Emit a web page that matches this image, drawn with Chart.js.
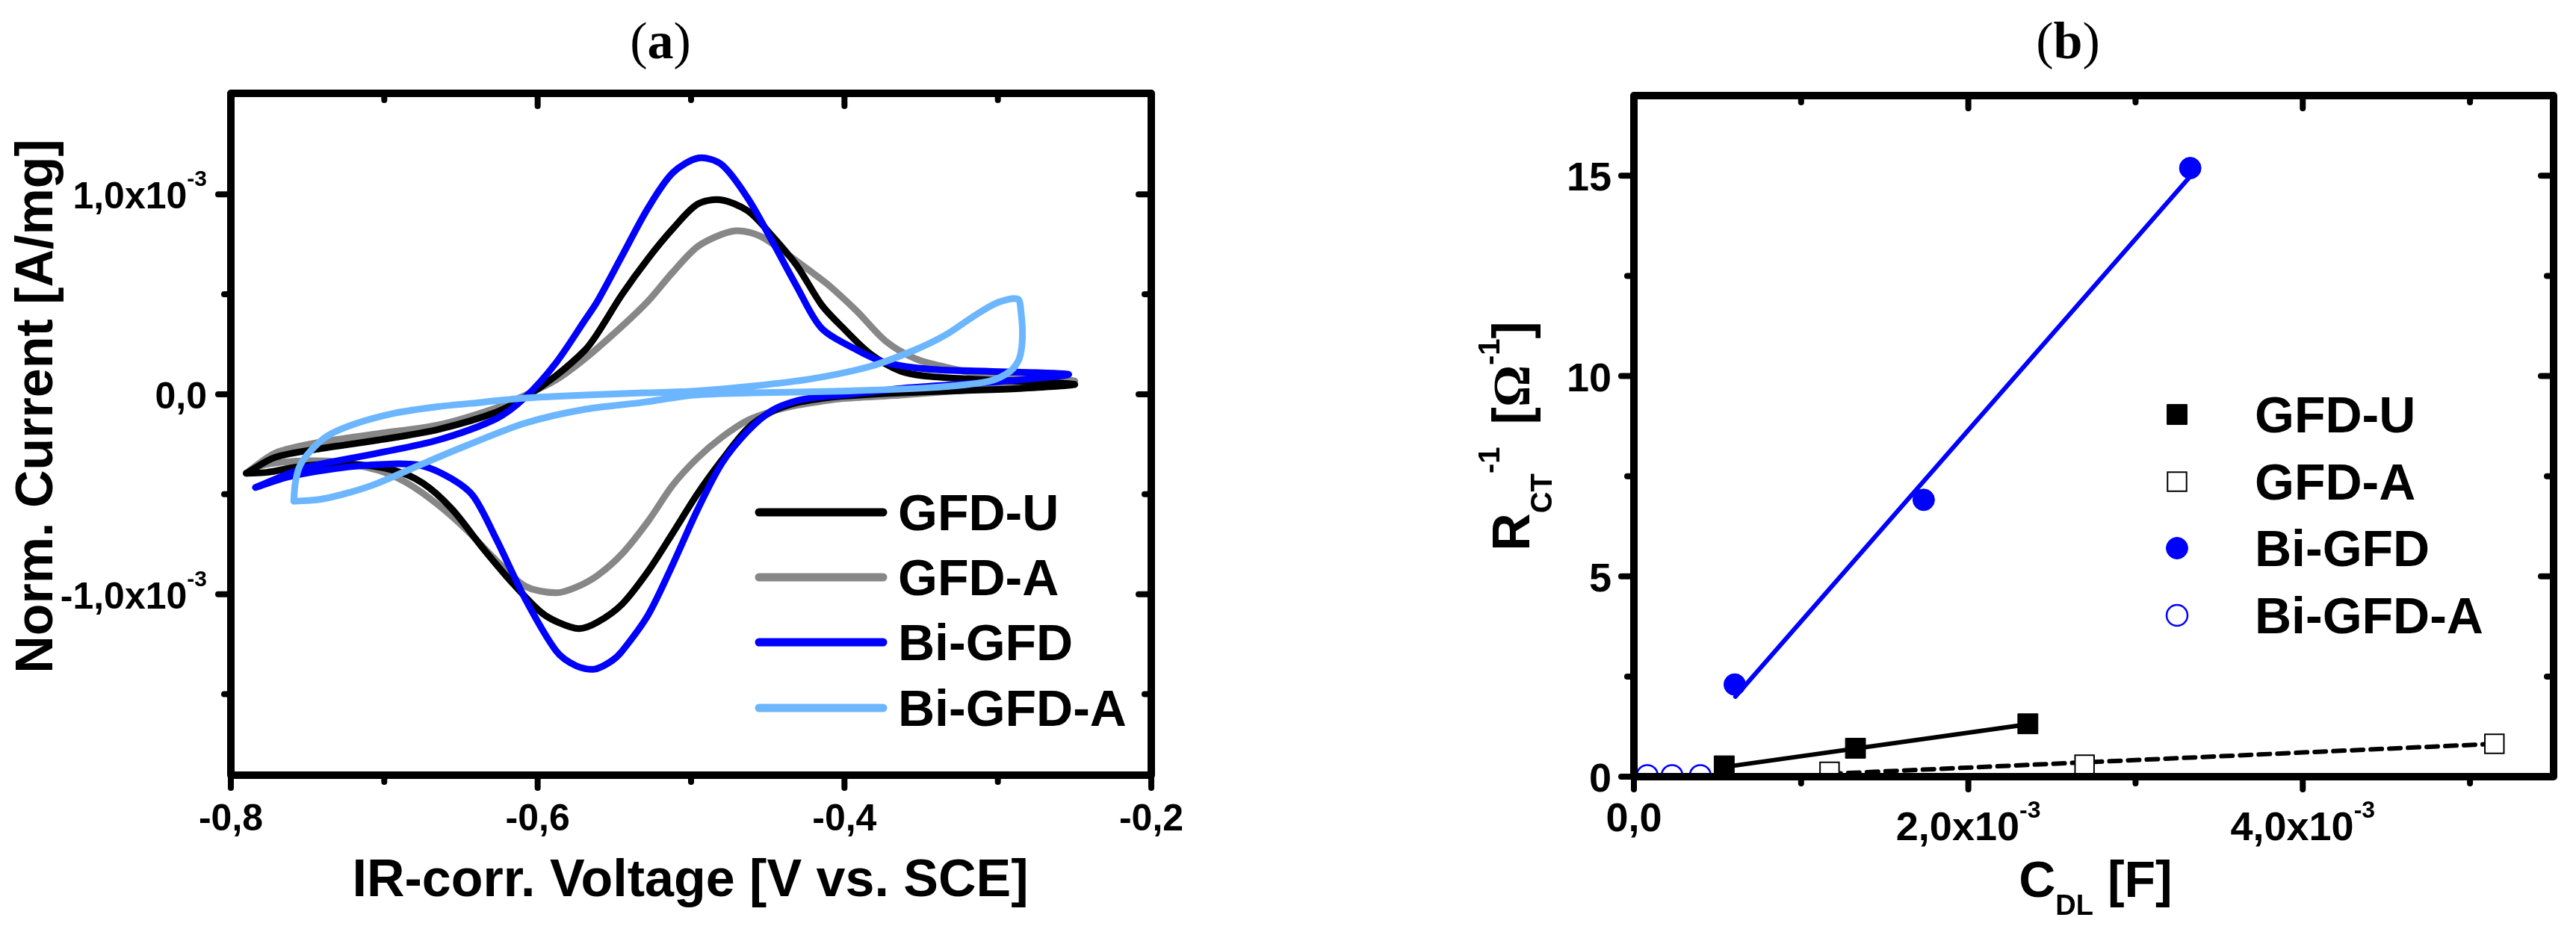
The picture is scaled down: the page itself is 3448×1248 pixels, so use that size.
<!DOCTYPE html>
<html>
<head>
<meta charset="utf-8">
<script src="https://cdn.jsdelivr.net/npm/chart.js@4.4.1/dist/chart.umd.min.js"></script>
<style>
html, body { margin: 0; padding: 0; background: #fff; }
#wrap { position: relative; width: 3448px; height: 1248px; overflow: hidden; }
canvas { position: absolute; top: 0; }
#cvA { left: 0; }
#cvB { left: 1724px; }
</style>
</head>
<body>
<div id="wrap">
  <canvas id="cvA" width="1724" height="1248"></canvas>
  <canvas id="cvB" width="1724" height="1248"></canvas>
</div>
<script>
// ---- panel (a): cyclic voltammograms, [V vs SCE, current in 10^-3 A/mg] ----
const cvGfdU = [[-0.790,-0.395],[-0.771,-0.315],[-0.742,-0.272],[-0.704,-0.229],[-0.665,-0.176],[-0.627,-0.090],[-0.608,-0.014],[-0.588,0.093],[-0.569,0.222],[-0.561,0.304],[-0.545,0.499],[-0.528,0.679],[-0.512,0.827],[-0.496,0.950],[-0.481,0.973],[-0.463,0.917],[-0.447,0.791],[-0.431,0.643],[-0.415,0.448],[-0.402,0.340],[-0.383,0.201],[-0.363,0.115],[-0.344,0.089],[-0.306,0.072],[-0.250,0.050],
  [-0.286,0.029],[-0.325,0.018],[-0.363,0.007],[-0.402,-0.010],[-0.415,-0.021],[-0.431,-0.042],[-0.447,-0.085],[-0.463,-0.170],[-0.480,-0.330],[-0.496,-0.500],[-0.512,-0.695],[-0.528,-0.885],[-0.545,-1.050],[-0.561,-1.140],[-0.573,-1.172],[-0.586,-1.143],[-0.598,-1.089],[-0.617,-0.939],[-0.636,-0.767],[-0.656,-0.573],[-0.675,-0.444],[-0.694,-0.380],[-0.723,-0.348],[-0.752,-0.358],[-0.777,-0.391],[-0.790,-0.395]];
const cvGfdA = [[-0.790,-0.395],[-0.771,-0.294],[-0.742,-0.240],[-0.704,-0.197],[-0.665,-0.154],[-0.627,-0.068],[-0.608,-0.004],[-0.588,0.072],[-0.569,0.179],[-0.545,0.340],[-0.528,0.466],[-0.512,0.610],[-0.496,0.737],[-0.480,0.800],[-0.469,0.818],[-0.455,0.791],[-0.439,0.710],[-0.423,0.620],[-0.411,0.550],[-0.392,0.416],[-0.373,0.265],[-0.354,0.179],[-0.334,0.136],[-0.306,0.093],[-0.250,0.067],
  [-0.286,0.039],[-0.325,0.018],[-0.363,-0.004],[-0.402,-0.022],[-0.415,-0.035],[-0.431,-0.055],[-0.447,-0.085],[-0.463,-0.130],[-0.480,-0.215],[-0.496,-0.320],[-0.512,-0.455],[-0.528,-0.635],[-0.545,-0.798],[-0.561,-0.906],[-0.575,-0.965],[-0.588,-0.993],[-0.608,-0.960],[-0.627,-0.831],[-0.646,-0.681],[-0.665,-0.552],[-0.685,-0.444],[-0.704,-0.380],[-0.733,-0.337],[-0.762,-0.337],[-0.781,-0.358],[-0.790,-0.395]];
const cvBiGfd = [[-0.784,-0.466],[-0.752,-0.369],[-0.704,-0.294],[-0.665,-0.229],[-0.627,-0.122],[-0.608,-0.014],[-0.588,0.158],[-0.569,0.373],[-0.561,0.466],[-0.545,0.692],[-0.528,0.932],[-0.512,1.107],[-0.495,1.182],[-0.480,1.148],[-0.463,0.980],[-0.447,0.764],[-0.431,0.538],[-0.415,0.331],[-0.392,0.222],[-0.373,0.158],[-0.344,0.125],[-0.306,0.115],[-0.254,0.100],
  [-0.286,0.072],[-0.325,0.050],[-0.363,0.029],[-0.402,-0.004],[-0.415,-0.012],[-0.431,-0.032],[-0.447,-0.080],[-0.463,-0.184],[-0.480,-0.346],[-0.496,-0.581],[-0.512,-0.852],[-0.528,-1.104],[-0.545,-1.285],[-0.552,-1.335],[-0.563,-1.375],[-0.575,-1.358],[-0.588,-1.283],[-0.608,-1.025],[-0.627,-0.724],[-0.642,-0.509],[-0.656,-0.423],[-0.675,-0.358],[-0.694,-0.348],[-0.723,-0.363],[-0.762,-0.412],[-0.784,-0.466]];
const cvBiGfdA = [[-0.759,-0.535],[-0.758,-0.444],[-0.755,-0.358],[-0.748,-0.283],[-0.737,-0.208],[-0.719,-0.148],[-0.694,-0.096],[-0.665,-0.062],[-0.636,-0.040],[-0.608,-0.019],[-0.569,-0.004],[-0.531,0.007],[-0.498,0.016],[-0.460,0.041],[-0.421,0.078],[-0.383,0.140],[-0.354,0.222],[-0.334,0.297],[-0.315,0.394],[-0.300,0.459],[-0.287,0.476],
  [-0.285,0.416],[-0.284,0.287],[-0.286,0.179],[-0.292,0.115],[-0.306,0.065],[-0.344,0.033],[-0.402,0.016],[-0.460,0.007],[-0.498,-0.004],[-0.531,-0.040],[-0.569,-0.075],[-0.608,-0.144],[-0.646,-0.255],[-0.675,-0.348],[-0.704,-0.444],[-0.723,-0.492],[-0.742,-0.526],[-0.759,-0.535]];
const cvNames = ['GFD-U', 'GFD-A', 'Bi-GFD', 'Bi-GFD-A'];
const cvColors = ['#000000', '#878787', '#0000ff', '#6cb6ff'];
const cvOrder = [3, 4, 2, 1];
const cvXTicks = [-0.8, -0.6, -0.4, -0.2];
const cvXLabels = ['-0,8', '-0,6', '-0,4', '-0,2'];
const cvXMinor = [-0.7, -0.5, -0.3];
const cvYTicks = [-1, 0, 1];
const cvYLabels = [['-1,0x10', '-3'], ['0,0', ''], ['1,0x10', '-3']];
const cvYMinor = [-1.5, -0.5, 0.5];

// ---- panel (b): R_CT^-1 vs C_DL ----
const cdlGfdU = [0.54e-3, 1.325e-3, 2.356e-3];
const rctGfdU = [0.27, 0.71, 1.32];
const cdlGfdA = [1.17e-3, 2.695e-3, 5.146e-3];
const rctGfdA = [0.12, 0.30, 0.82];
const cdlBiGfd = [0.603e-3, 1.733e-3, 3.327e-3];
const rctBiGfd = [2.30, 6.91, 15.19];
const cdlBiGfdA = [0.080e-3, 0.228e-3, 0.397e-3];
const rctBiGfdA = [0.03, 0.03, 0.03];
// fitted lines, end points
const fitGfdU = [[0.54e-3, 0.24], [2.36e-3, 1.31]];
const fitGfdA = [[1.17e-3, 0.07], [5.15e-3, 0.82]];
const fitBiGfd = [[0.607e-3, 2.0], [3.32e-3, 14.95]];
const fitBiGfdA = [[0.08e-3, 0.02], [0.40e-3, 0.03]];
const rcXTicks = [0, 2e-3, 4e-3];
const rcXLabels = [['0,0', ''], ['2,0x10', '-3'], ['4,0x10', '-3']];
const rcXMinor = [1e-3, 3e-3, 5e-3];
const rcYTicks = [0, 5, 10, 15];
const rcYLabels = ['0', '5', '10', '15'];
const rcYMinor = [2.5, 7.5, 12.5];

const SANS = '"Liberation Sans", Arial, sans-serif';
const SERIF = '"Liberation Serif", "Times New Roman", serif';
const B = (px) => 'bold ' + px + 'px ' + SANS;

function richWidth(ctx, parts) {
  let w = 0;
  for (const p of parts) { ctx.font = p.font; w += ctx.measureText(p.t).width + (p.gap || 0); }
  return w;
}
function drawRich(ctx, parts, x, y, align) {
  const w = richWidth(ctx, parts);
  let cx = align === 'center' ? x - w / 2 : align === 'right' ? x - w : x;
  ctx.textAlign = 'left'; ctx.textBaseline = 'alphabetic';
  for (const p of parts) {
    ctx.font = p.font;
    ctx.fillText(p.t, cx, y + (p.dy || 0));
    cx += ctx.measureText(p.t).width + (p.gap || 0);
  }
}

function drawFrame(chart, t) {
  const { ctx, chartArea: { left, right, top, bottom }, scales: { x, y } } = chart;
  ctx.save();
  ctx.strokeStyle = '#000';
  ctx.lineWidth = 10; ctx.lineJoin = 'round';
  ctx.strokeRect(left, top, right - left, bottom - top);
  ctx.lineWidth = 8; ctx.lineCap = 'round';
  const tick = (x1, y1, x2, y2) => { ctx.beginPath(); ctx.moveTo(x1, y1); ctx.lineTo(x2, y2); ctx.stroke(); };
  for (const [vals, len] of [[t.xMajor, 17], [t.xMinor, 9]]) {
    for (const v of vals) { const px = x.getPixelForValue(v); tick(px, bottom, px, bottom + len); tick(px, top, px, top + len); }
  }
  for (const [vals, len] of [[t.yMajor, 17], [t.yMinor, 9]]) {
    for (const v of vals) { const py = y.getPixelForValue(v); tick(left, py, left - len, py); tick(right, py, right - len, py); }
  }
  ctx.restore();
}

function drawTitle(ctx, letter, cx) {
  ctx.fillStyle = '#000';
  drawRich(ctx, [
    { t: '(', font: '70px ' + SERIF },
    { t: letter, font: 'bold 70px ' + SERIF },
    { t: ')', font: '70px ' + SERIF }
  ], cx, 78, 'center');
}

function baseOpts(xmin, xmax, ymin, ymax, padding) {
  return {
    responsive: false, animation: false, devicePixelRatio: 1, events: [],
    layout: { padding },
    plugins: { legend: { display: false }, tooltip: { enabled: false } },
    scales: {
      x: { type: 'linear', min: xmin, max: xmax, display: false },
      y: { type: 'linear', min: ymin, max: ymax, display: false }
    }
  };
}

// ---- chart (a) ----
const panelA = {
  id: 'panelA',
  afterDatasetsDraw(chart) {
    const { ctx, chartArea: { left, right, bottom }, scales: { x, y } } = chart;
    drawFrame(chart, { xMajor: cvXTicks, xMinor: cvXMinor, yMajor: cvYTicks, yMinor: cvYMinor });
    ctx.save();
    ctx.fillStyle = '#000';
    cvXTicks.forEach((v, i) => drawRich(ctx, [{ t: cvXLabels[i], font: B(50) }], x.getPixelForValue(v), bottom + 74, 'center'));
    cvYTicks.forEach((v, i) => {
      const py = y.getPixelForValue(v);
      const parts = [{ t: cvYLabels[i][0], font: B(50) }];
      if (cvYLabels[i][1]) parts.push({ t: cvYLabels[i][1], font: B(30), dy: -30 });
      drawRich(ctx, parts, left - 32, py + 19, 'right');
    });
    drawRich(ctx, [{ t: 'IR-corr. Voltage [V vs. SCE]', font: B(70) }], (left + right) / 2 - 1, 1200, 'center');
    ctx.save();
    ctx.translate(70, 544); ctx.rotate(-Math.PI / 2);
    drawRich(ctx, [{ t: 'Norm. Current [A/mg]', font: B(70) }], 0, 0, 'center');
    ctx.restore();
    drawTitle(ctx, 'a', 884);
    // legend
    const rows = [686, 773, 860, 948];
    chart.data.datasets.forEach((ds, i) => {
      ctx.strokeStyle = ds.borderColor; ctx.lineWidth = 11; ctx.lineCap = 'round';
      ctx.beginPath(); ctx.moveTo(1016, rows[i]); ctx.lineTo(1182, rows[i]); ctx.stroke();
      ctx.fillStyle = '#000';
      drawRich(ctx, [{ t: ds.label, font: B(68) }], 1202, rows[i] + 24, 'left');
    });
    ctx.restore();
  }
};

new Chart(document.getElementById('cvA'), {
  type: 'scatter',
  data: {
    datasets: [cvGfdU, cvGfdA, cvBiGfd, cvBiGfdA].map((d, i) => ({
      label: cvNames[i], data: d, showLine: true,
      borderColor: cvColors[i], backgroundColor: cvColors[i],
      borderWidth: 9, pointRadius: 0, tension: 0.3,
      borderCapStyle: 'round', borderJoinStyle: 'round', order: cvOrder[i]
    }))
  },
  options: baseOpts(-0.8, -0.2, -1.905, 1.505, { left: 309, right: 183, top: 125, bottom: 210 }),
  plugins: [panelA]
});

// ---- chart (b) ----
const pts = (xs, ys) => xs.map((v, i) => ({ x: v, y: ys[i] }));
const markerSets = [
  { label: 'GFD-U', data: pts(cdlGfdU, rctGfdU), pointStyle: 'rect', pointRadius: 19, backgroundColor: '#000', borderColor: '#000', pointBorderWidth: 1 },
  { label: 'GFD-A', data: pts(cdlGfdA, rctGfdA), pointStyle: 'rect', pointRadius: 18, backgroundColor: '#fff', borderColor: '#000', pointBorderWidth: 2 },
  { label: 'Bi-GFD', data: pts(cdlBiGfd, rctBiGfd), pointStyle: 'circle', pointRadius: 14.5, backgroundColor: '#0000ff', borderColor: '#0000ff', pointBorderWidth: 1 },
  { label: 'Bi-GFD-A', data: pts(cdlBiGfdA, rctBiGfdA), pointStyle: 'circle', pointRadius: 14, backgroundColor: '#fff', borderColor: '#0000ff', pointBorderWidth: 2.5 }
];
const fitSets = [
  { data: fitGfdU, borderColor: '#000', borderWidth: 6 },
  { data: fitGfdA, borderColor: '#000', borderWidth: 6, borderDash: [15, 10] },
  { data: fitBiGfd, borderColor: '#0000ff', borderWidth: 6 },
  { data: fitBiGfdA, borderColor: '#0000ff', borderWidth: 5 }
];

const panelB = {
  id: 'panelB',
  afterDatasetsDraw(chart) {
    const { ctx, chartArea: { left }, scales: { x, y } } = chart;
    drawFrame(chart, { xMajor: rcXTicks, xMinor: rcXMinor, yMajor: rcYTicks, yMinor: rcYMinor });
    ctx.save();
    ctx.fillStyle = '#000';
    rcXTicks.forEach((v, i) => {
      const px = x.getPixelForValue(v);
      if (rcXLabels[i][1]) drawRich(ctx, [{ t: rcXLabels[i][0], font: B(54) }, { t: rcXLabels[i][1], font: B(32), dy: -30 }], px, 1125, 'center');
      else drawRich(ctx, [{ t: rcXLabels[i][0], font: B(54) }], px, 1113, 'center');
    });
    rcYTicks.forEach((v, i) => drawRich(ctx, [{ t: rcYLabels[i], font: B(54) }], left - 30, y.getPixelForValue(v) + 20, 'right'));
    drawRich(ctx, [
      { t: 'C', font: B(68) },
      { t: 'DL', font: B(38), dy: 24 },
      { t: ' [F]', font: B(68) }
    ], 1081, 1201, 'center');
    ctx.save();
    ctx.translate(323, 584); ctx.rotate(-Math.PI / 2);
    drawRich(ctx, [
      { t: 'R', font: B(70) },
      { t: 'CT', font: B(40), dy: 30 },
      { t: '-1', font: B(40), dy: -40, gap: 30 },
      { t: '[', font: B(70) },
      { t: '\u03A9', font: 'bold 70px ' + SERIF },
      { t: '-1', font: B(40), dy: -40 },
      { t: ']', font: B(70) }
    ], 0, 0, 'center');
    ctx.restore();
    drawTitle(ctx, 'b', 1044);
    // legend
    const rows = [555, 645, 734, 824];
    markerSets.forEach((m, i) => {
      ctx.fillStyle = m.backgroundColor; ctx.strokeStyle = m.borderColor; ctx.lineWidth = m.pointBorderWidth;
      Chart.helpers.drawPoint(ctx, { pointStyle: m.pointStyle, radius: m.pointRadius, rotation: 0, borderWidth: m.pointBorderWidth }, 1190, rows[i]);
      ctx.fillStyle = '#000';
      drawRich(ctx, [{ t: m.label, font: B(68) }], 1294, rows[i] + 24, 'left');
    });
    ctx.restore();
  }
};

new Chart(document.getElementById('cvB'), {
  type: 'scatter',
  data: {
    datasets: [
      ...fitSets.map(f => Object.assign({ showLine: true, pointRadius: 0, borderCapStyle: 'round', order: 2, clip: 0 }, f)),
      ...markerSets.map(m => Object.assign({ showLine: false, order: 1, clip: 0 }, m))
    ]
  },
  options: baseOpts(0, 5.5e-3, 0, 17, { left: 463, right: 30, top: 128, bottom: 208 }),
  plugins: [panelB]
});
</script>
</body>
</html>
